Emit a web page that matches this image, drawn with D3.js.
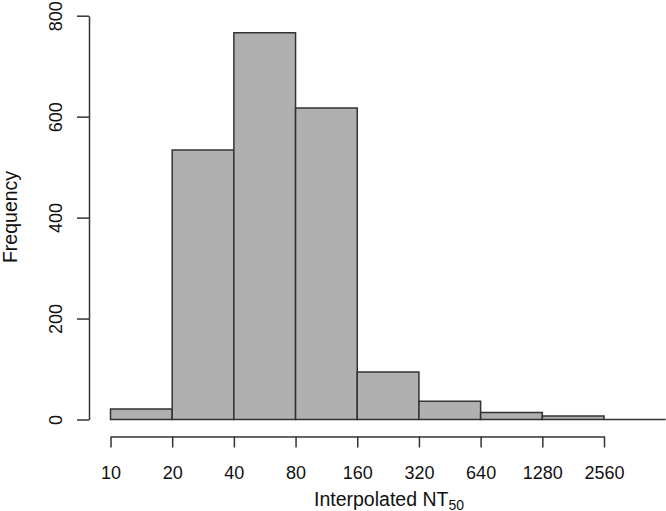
<!DOCTYPE html>
<html>
<head>
<meta charset="utf-8">
<script src="https://cdn.jsdelivr.net/npm/d3@7"></script>
<style>
  body { margin: 0; background: #fff; }
  svg { display: block; font-family: "Liberation Sans", Arial, Helvetica, sans-serif; }
</style>
</head>
<body>
<script>
// bin edges (log2 spaced) and counts per bin
const breaks = [10, 20, 40, 80, 160, 320, 640, 1280, 2560, 5120];
const counts = [21, 534, 766, 617, 94, 36, 14, 7, 0];
const xTicks = [10, 20, 40, 80, 160, 320, 640, 1280, 2560];
const yTicks = [0, 200, 400, 600, 800];

const width = 666,
  height = 511;

const svg = d3
  .select("body")
  .append("svg")
  .attr("width", width)
  .attr("height", height)
  .attr("viewBox", [0, 0, width, height]);

// x axis runs 10..2560, bars continue past it to 5120
const x = d3.scaleLog().base(2).domain([10, 2560]).range([110.5, 604]);
const y = d3.scaleLinear().domain([0, 800]).range([419.5, 15.7]);

const bins = counts.map((c, i) => ({ x0: breaks[i], x1: breaks[i + 1], n: c }));

// bars (empty bins still show as a flat line, like R's hist)
svg
  .append("g")
  .selectAll("path")
  .data(bins)
  .join("path")
  .attr("d", (d) => {
    const x0 = x(d.x0),
      x1 = x(d.x1),
      y0 = y(0),
      y1 = y(d.n);
    return `M${x0},${y0}V${y1}H${x1}V${y0}Z`;
  })
  .attr("fill", "#b0b0b0")
  .attr("stroke", "#333")
  .attr("stroke-width", 1.5);

// x axis
const xAxis = svg
  .append("g")
  .attr("transform", "translate(0,436.5)")
  .call(
    d3.axisBottom(x).tickValues(xTicks).tickFormat(d3.format("d")).tickSize(11).tickSizeOuter(0).tickPadding(0)
  );
xAxis.selectAll("text").attr("y", 42).attr("dy", 0).attr("font-size", 18).attr("fill", "#111");

// y axis, labels rotated like base R
const yAxis = svg
  .append("g")
  .attr("transform", "translate(89,0)")
  .call(d3.axisLeft(y).tickValues(yTicks).tickSize(12).tickSizeOuter(0));
yAxis
  .selectAll("text")
  .attr("transform", "rotate(-90)")
  .attr("x", 0)
  .attr("y", -27.5)
  .attr("dy", 0)
  .attr("text-anchor", "middle")
  .attr("font-size", 18)
  .attr("fill", "#111");

svg.selectAll(".domain, .tick line").attr("stroke", "#333").attr("stroke-width", 1.5);

// axis titles
svg
  .append("text")
  .attr("transform", "translate(17,217) rotate(-90)")
  .attr("text-anchor", "middle")
  .attr("font-size", 19.5)
  .attr("fill", "#111")
  .text("Frequency");

const xlab = svg
  .append("text")
  .attr("x", 389)
  .attr("y", 505.5)
  .attr("text-anchor", "middle")
  .attr("font-size", 19.5)
  .attr("fill", "#111");
xlab.append("tspan").text("Interpolated NT");
xlab.append("tspan").attr("font-size", 14).attr("dy", 4).text("50");
</script>
</body>
</html>
